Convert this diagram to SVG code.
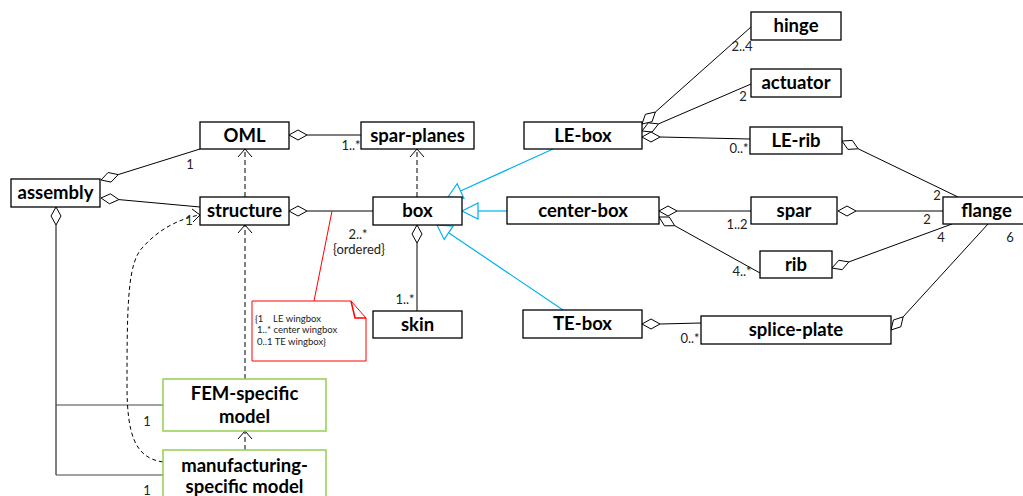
<svg xmlns="http://www.w3.org/2000/svg" width="1023" height="496" viewBox="0 0 1023 496">
  <style>
    .box { fill: #ffffff; stroke: #000000; stroke-width: 1.3; }
    .green { fill: #ffffff; stroke: #92d050; stroke-width: 1.5; }
    .name { font-family: Lato, "Liberation Sans", sans-serif; font-weight: bold; font-size: 18.5px; fill: #000000; text-anchor: middle; }
    .mult { font-family: Lato, "Liberation Sans", sans-serif; font-size: 13px; fill: #222222; text-anchor: middle; }
    .note { font-family: Lato, "Liberation Sans", sans-serif; font-size: 9.5px; fill: #222222; }
    .assoc { fill: none; stroke: #000000; stroke-width: 1; }
    .grey { fill: none; stroke: #444444; stroke-width: 1; }
    .dia { fill: #ffffff; stroke: #000000; stroke-width: 1; }
    .dep { fill: none; stroke: #000000; stroke-width: 1; stroke-dasharray: 5 3; }
    .curve { fill: none; stroke: #000000; stroke-width: 1; stroke-dasharray: 4 3; }
    .head { fill: none; stroke: #000000; stroke-width: 1; }
    .gen { fill: none; stroke: #00b0f0; stroke-width: 1.2; }
    .tri { fill: #ffffff; stroke: #00b0f0; stroke-width: 1.2; }
  </style>

  <!-- connectors -->
  <g id="connectors">
    <!-- aggregations from assembly -->
    <polygon class="dia" points="101,180 108.1,172.5 118.2,174.6 111.1,182.1"/>
    <line class="assoc" x1="118.2" y1="174.6" x2="200" y2="149"/>
    <polygon class="dia" points="101,198 110.4,193.8 118.9,199.6 109.5,203.8"/>
    <line class="assoc" x1="118.9" y1="199.6" x2="200" y2="207"/>
    <polygon class="dia" points="56,207 61,216 56,225 51,216"/>
    <line class="assoc" x1="56" y1="225" x2="56" y2="475"/>
    <line class="grey" x1="56" y1="405" x2="163" y2="405"/>
    <line class="grey" x1="56" y1="475" x2="163" y2="475"/>

    <!-- OML / spar-planes -->
    <polygon class="dia" points="289,135 298,130 307,135 298,140"/>
    <line class="assoc" x1="307" y1="135" x2="361" y2="135"/>

    <!-- structure / box -->
    <polygon class="dia" points="289,211 298,206 307,211 298,216"/>
    <line class="assoc" x1="307" y1="211" x2="373" y2="211"/>

    <!-- box / skin -->
    <polygon class="dia" points="417,225 422,234 417,243 412,234"/>
    <line class="assoc" x1="417" y1="243" x2="417" y2="311"/>

    <!-- dependencies -->
    <line class="dep" x1="245" y1="197" x2="245" y2="150"/>
    <polyline class="head" points="238,157 245,149 252,157"/>
    <line class="dep" x1="245" y1="379" x2="245" y2="226"/>
    <polyline class="head" points="238,233 245,225 252,233"/>
    <line class="dep" x1="417" y1="197" x2="417" y2="150"/>
    <polyline class="head" points="410,157 417,149 424,157"/>
    <line class="dep" x1="245" y1="450" x2="245" y2="432"/>
    <polyline class="head" points="238,439 245,431 252,439"/>
    <path class="curve" d="M163,462 C135,458 127,435 127,385 C127,300 128,262 143,247 C160,228 180,219 199,215"/>
    <polyline class="head" points="192,209 200,215 193,222"/>

    <!-- generalizations to box -->
    <line class="gen" x1="553" y1="149" x2="460.5" y2="191"/>
    <polygon class="tri" points="448,197 457.2,183.7 463.9,198.3"/>
    <line class="gen" x1="478" y1="211" x2="507" y2="211"/>
    <polygon class="tri" points="462,211 478,203 478,219"/>
    <line class="gen" x1="448.6" y1="232.8" x2="563" y2="310"/>
    <polygon class="tri" points="437,225 453.1,226.2 444.1,239.4"/>

    <!-- LE-box parts -->
    <polygon class="dia" points="642,124 645.4,114.3 655.4,112 652,121.7"/>
    <line class="assoc" x1="655.4" y1="112" x2="751" y2="27"/>
    <polygon class="dia" points="642,131 648.3,122.8 658.5,123.9 652.2,132"/>
    <line class="assoc" x1="658.5" y1="123.9" x2="751" y2="84"/>
    <polygon class="dia" points="642,137 651,132 660,137 651,142"/>
    <line class="assoc" x1="660" y1="137" x2="750" y2="139"/>

    <!-- center-box parts -->
    <polygon class="dia" points="659,211 668,206 677,211 668,216"/>
    <line class="assoc" x1="677" y1="211" x2="751" y2="211"/>
    <polygon class="dia" points="659,217 669.3,217 674.7,225.7 664.5,225.8"/>
    <line class="assoc" x1="674.7" y1="225.7" x2="760" y2="273"/>

    <!-- TE-box parts -->
    <polygon class="dia" points="642,324 651,319 660,324 651,329"/>
    <line class="assoc" x1="660" y1="324" x2="701" y2="323"/>

    <!-- flange aggregations -->
    <polygon class="dia" points="842,141 852.3,140.4 858.2,148.8 847.9,149.4"/>
    <line class="assoc" x1="858.2" y1="148.8" x2="958" y2="197"/>
    <polygon class="dia" points="838,211 847,206 856,211 847,216"/>
    <line class="assoc" x1="856" y1="211" x2="943" y2="211"/>
    <polygon class="dia" points="832,268 838.8,260.3 848.9,261.9 842.2,269.7"/>
    <line class="assoc" x1="848.9" y1="261.9" x2="952" y2="224"/>
    <polygon class="dia" points="891,330 893.4,320 903.2,316.8 900.8,326.8"/>
    <line class="assoc" x1="903.2" y1="316.8" x2="988" y2="224"/>

    <!-- note anchor -->
    <line x1="314" y1="301" x2="332" y2="211" stroke="#ff0000" stroke-width="1"/>

    <!-- multiplicities -->
    <text class="mult" x="190" y="169">1</text>
    <text class="mult" x="189" y="225">1</text>
    <text class="mult" x="351" y="150">1..*</text>
    <text class="mult" x="358" y="239">2..*</text>
    <text class="mult" x="359" y="254">{ordered}</text>
    <text class="mult" x="405" y="304">1..*</text>
    <text class="mult" x="742" y="51">2..4</text>
    <text class="mult" x="743" y="101">2</text>
    <text class="mult" x="739" y="153">0..*</text>
    <text class="mult" x="737" y="229">1..2</text>
    <text class="mult" x="742" y="276">4..*</text>
    <text class="mult" x="937" y="200">2</text>
    <text class="mult" x="927" y="224">2</text>
    <text class="mult" x="941" y="242">4</text>
    <text class="mult" x="1010" y="242">6</text>
    <text class="mult" x="690" y="343">0..*</text>
    <text class="mult" x="147" y="426">1</text>
    <text class="mult" x="147" y="495">1</text>
  </g>

  <!-- note -->
  <g id="note-wingbox">
    <path d="M252,301 H351 L366,318 V361 H252 Z" fill="#ffffff" stroke="#ff0000" stroke-width="1"/>
    <path d="M351,301 L355,318 H366" fill="none" stroke="#ff0000" stroke-width="1.5"/>
    <text class="note" x="255" y="322" xml:space="preserve">{1    LE wingbox</text>
    <text class="note" x="257" y="333">1..* center wingbox</text>
    <text class="note" x="257" y="345">0..1 TE wingbox}</text>
  </g>

  <!-- nodes -->
  <g id="assembly"><rect class="box" x="11" y="179" width="89" height="28"/><text class="name" x="55.5" y="199">assembly</text></g>
  <g id="OML"><rect class="box" x="200" y="122" width="89" height="27"/><text class="name" x="244.5" y="141.5">OML</text></g>
  <g id="structure"><rect class="box" x="200" y="197" width="89" height="28"/><text class="name" x="244.5" y="217">structure</text></g>
  <g id="spar-planes"><rect class="box" x="361" y="122" width="113" height="27"/><text class="name" x="417.5" y="141.5">spar-planes</text></g>
  <g id="box"><rect class="box" x="373" y="197" width="89" height="28"/><text class="name" x="417.5" y="217">box</text></g>
  <g id="skin"><rect class="box" x="373" y="311" width="89" height="27"/><text class="name" x="417.5" y="330.5">skin</text></g>
  <g id="LE-box"><rect class="box" x="524" y="122" width="118" height="27"/><text class="name" x="583" y="141.5">LE-box</text></g>
  <g id="center-box"><rect class="box" x="507" y="197" width="152" height="27"/><text class="name" x="583" y="216.5">center-box</text></g>
  <g id="TE-box"><rect class="box" x="523" y="310" width="119" height="28"/><text class="name" x="582.5" y="330">TE-box</text></g>
  <g id="hinge"><rect class="box" x="751" y="12" width="90" height="28"/><text class="name" x="796" y="32">hinge</text></g>
  <g id="actuator"><rect class="box" x="751" y="69" width="90" height="28"/><text class="name" x="796" y="89">actuator</text></g>
  <g id="LE-rib"><rect class="box" x="750" y="127" width="92" height="27"/><text class="name" x="796" y="146.5">LE-rib</text></g>
  <g id="spar"><rect class="box" x="751" y="197" width="86" height="27"/><text class="name" x="794" y="216.5">spar</text></g>
  <g id="rib"><rect class="box" x="760" y="251" width="72" height="27"/><text class="name" x="796" y="270.5">rib</text></g>
  <g id="flange"><rect class="box" x="943" y="197" width="87" height="27"/><text class="name" x="986.5" y="216.5">flange</text></g>
  <g id="splice-plate"><rect class="box" x="701" y="316" width="190" height="28"/><text class="name" x="796" y="336">splice-plate</text></g>
  <g id="FEM-specific-model"><rect class="green" x="163" y="379" width="163" height="52"/><text class="name" x="244.5" y="400">FEM-specific</text><text class="name" x="244.5" y="423">model</text></g>
  <g id="manufacturing-specific-model"><rect class="green" x="163" y="450" width="163" height="56"/><text class="name" x="244.5" y="472">manufacturing-</text><text class="name" x="244.5" y="493">specific model</text></g>
</svg>
